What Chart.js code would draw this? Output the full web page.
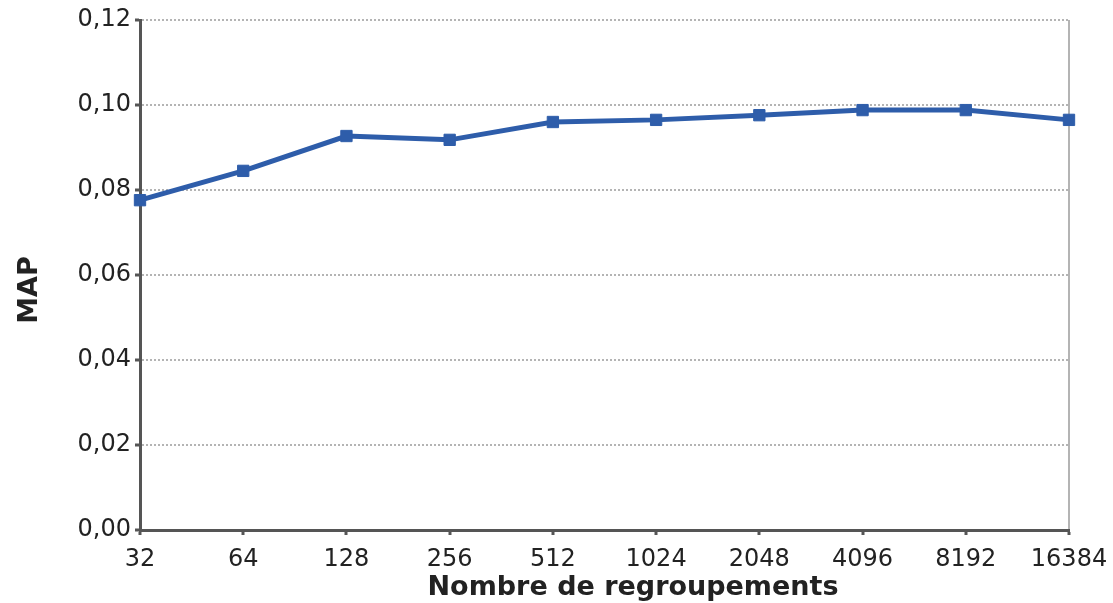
<!DOCTYPE html>
<html>
<head>
<meta charset="utf-8">
<script src="https://cdn.jsdelivr.net/npm/chart.js@4/dist/chart.umd.min.js"></script>
<style>
  html, body { margin: 0; padding: 0; background: #fff; }
  #wrap { width: 1113px; height: 603px; }
</style>
</head>
<body>
<div id="wrap"><canvas id="mapChart"></canvas></div>
<script>
// nombre de regroupements (axe x)
const clusters = ["32", "64", "128", "256", "512", "1024", "2048", "4096", "8192", "16384"];
// valeurs MAP
const mapValues = [0.0776, 0.0845, 0.0927, 0.0918, 0.0960, 0.0965, 0.0976, 0.0988, 0.0988, 0.0965];
const yTicks = [0, 0.02, 0.04, 0.06, 0.08, 0.10, 0.12];

const xTitle = "Nombre de regroupements";
const yTitle = "MAP";

const axisColor = "#555555";
const gridColor = "#b4b4b4";
const lineColor = "#2e5daa";
const fontFamily = "'DejaVu Sans', sans-serif";

// titres des axes dessinés à la main (position libre)
const axisTitles = {
    id: "axisTitles",
    afterDraw(chart) {
        const ctx = chart.ctx;
        ctx.save();
        ctx.fillStyle = "#222";
        ctx.font = "bold 27px " + fontFamily;
        ctx.textAlign = "center";
        ctx.textBaseline = "middle";
        ctx.fillText(xTitle, 633, 588);
        ctx.translate(30, 290);
        ctx.rotate(-Math.PI / 2);
        ctx.fillText(yTitle, 0, 0);
        ctx.restore();
    },
};

const ctx = document.getElementById("mapChart").getContext("2d");
new Chart(ctx, {
    type: "line",
    data: {
        labels: clusters,
        datasets: [
            {
                data: mapValues,
                borderColor: lineColor,
                backgroundColor: lineColor,
                borderWidth: 5,
                tension: 0,
                pointStyle: "rect",
                pointRadius: 8,
                pointBorderWidth: 1,
                pointBackgroundColor: lineColor,
                pointBorderColor: lineColor,
            },
        ],
    },
    options: {
        responsive: true,
        maintainAspectRatio: false,
        animation: false,
        layout: { padding: 0 },
        plugins: {
            legend: { display: false },
            tooltip: { enabled: false },
        },
        scales: {
            x: {
                offset: false,
                afterFit: (scale) => {
                    scale.height = 73;
                    scale.paddingLeft = 0;
                    scale.paddingRight = 44;
                },
                grid: {
                    color: (c) => (c.index === clusters.length - 1 ? gridColor : "transparent"),
                    lineWidth: 2,
                    drawTicks: true,
                    tickLength: 5,
                    tickColor: axisColor,
                    tickWidth: 3,
                },
                border: { color: axisColor, width: 3 },
                ticks: {
                    color: "#222",
                    font: { family: fontFamily, size: 24 },
                    padding: 10,
                    maxRotation: 0,
                    autoSkip: false,
                },
            },
            y: {
                min: 0,
                max: 0.12,
                afterFit: (scale) => {
                    scale.width = 140;
                    scale.paddingTop = 20;
                    scale.paddingBottom = 0;
                },
                afterBuildTicks: (scale) => {
                    scale.ticks = yTicks.map((v) => ({ value: v }));
                },
                grid: {
                    color: gridColor,
                    lineWidth: 2,
                    drawTicks: true,
                    tickLength: 5,
                    tickColor: axisColor,
                    tickWidth: 3,
                },
                border: { color: axisColor, width: 3, dash: [2, 2] },
                ticks: {
                    color: "#222",
                    font: { family: fontFamily, size: 24 },
                    padding: 4,
                    callback: (v) => Number(v).toFixed(2).replace(".", ","),
                },
            },
        },
    },
    plugins: [axisTitles],
});
</script>
</body>
</html>
